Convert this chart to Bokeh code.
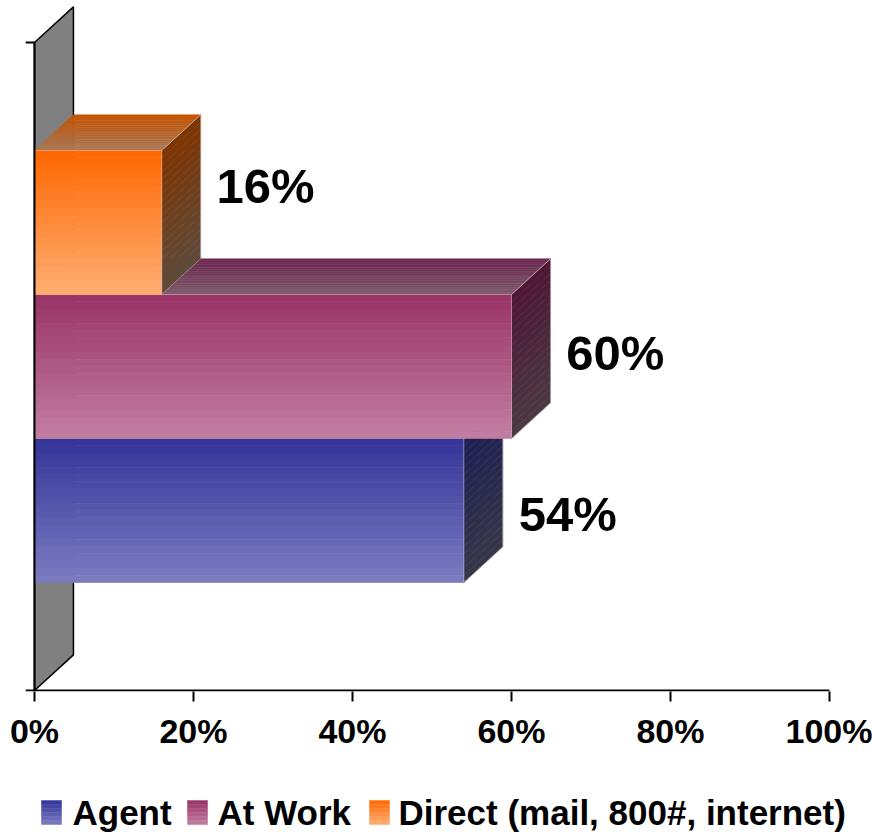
import numpy as np
from bokeh.plotting import figure
from bokeh.layouts import column
from bokeh.models import ColumnDataSource, FixedTicker, Range1d
from bokeh.core.properties import value
from bokeh.embed import file_html
from bokeh.resources import INLINE

# ---------------- data ----------------
series = ["Agent", "At Work", "Direct (mail, 800#, internet)"]
shares = [54, 60, 16]
value_labels = ["54%", "60%", "16%"]
tick_values = [0, 20, 40, 60, 80, 100]
tick_labels = ["0%", "20%", "40%", "60%", "80%", "100%"]

# ---------------- styles ----------------
front_top = ["#333399", "#993366", "#FF6600"]
front_bottom = ["#7C7CC2", "#C27EA2", "#FFAE74"]
side_top = ["#1E1E52", "#4E1634", "#7E3300"]
side_bottom = ["#373749", "#4A3942", "#5E4B3B"]
roof_back = ["#2A2A70", "#6C2850", "#C45200"]
roof_front = ["#55557A", "#7F5C6B", "#A97A5A"]
label_dy = [-0.006, 0.021, 0.056]   # vertical nudge of value labels
FONT = "Liberation Sans"

BAR_H = 2.0 / 9.0      # thickness of one bar (front plane spans 0..1)
GROUP0 = 1.0 / 6.0     # bottom of the bar group
DX = 4.9               # depth offset along x (percent units)
DY = 0.055             # depth offset along y
NB = 20                # gradient bands
PX_X = 7.95            # pixels per percent
PX_Y = 648.0           # pixels per unit of height
X0 = -1.13
X_END = X0 + 847 / PX_X
Y0 = -1.0 / PX_Y
Y1 = 690.0 / PX_Y

# legend layout (pixels in legend strip)
LEG_SQ_X = [41, 187, 369]
LEG_TXT_X = [72, 217, 398]
LEG_SQ_Y = (30, 54)
LEG_TXT_MID = 42


def hex2rgb(h):
    h = h.lstrip("#")
    return np.array([int(h[i:i + 2], 16) for i in (0, 2, 4)], dtype=float)


def lerp(c1, c2, t):
    a, b = hex2rgb(c1), hex2rgb(c2)
    c = a + (b - a) * t
    return "#%02x%02x%02x" % tuple(int(round(v)) for v in c)


p = figure(width=872, height=770, output_backend="svg", toolbar_location=None,
           x_range=Range1d(X0, X_END), y_range=Range1d(Y0, Y1),
           min_border_left=25, min_border_right=0, min_border_top=0,
           min_border_bottom=79)
p.outline_line_color = None
p.xgrid.visible = False
p.ygrid.visible = False
p.yaxis.visible = False

# back wall
p.patch([0, 0, DX, DX], [0, 1, 1 + DY, DY], fill_color="#808080",
        line_color="black", line_width=1.5)

# bars, drawn bottom to top so upper bars cover hidden faces
for i, v in enumerate(shares):
    y0 = GROUP0 + i * BAR_H
    y1 = y0 + BAR_H
    xs, ys, cols = [], [], []
    for k in range(NB):  # roof
        t0, t1 = k / NB, (k + 1) / NB
        xs.append([t0 * DX, v + t0 * DX, v + t1 * DX, t1 * DX])
        ys.append([y1 + t0 * DY, y1 + t0 * DY, y1 + t1 * DY, y1 + t1 * DY])
        cols.append(lerp(roof_front[i], roof_back[i], (k + 0.5) / NB))
    for k in range(NB):  # side
        a = y1 - k * BAR_H / NB
        b = y1 - (k + 1) * BAR_H / NB
        xs.append([v, v + DX, v + DX, v])
        ys.append([a, a + DY, b + DY, b])
        cols.append(lerp(side_top[i], side_bottom[i], (k + 0.5) / NB))
    for k in range(NB):  # front
        a = y1 - k * BAR_H / NB
        b = y1 - (k + 1) * BAR_H / NB
        xs.append([0, v, v, 0])
        ys.append([a, a, b, b])
        cols.append(lerp(front_top[i], front_bottom[i], (k + 0.5) / NB))
    src = ColumnDataSource(dict(xs=xs, ys=ys, c=cols))
    p.patches("xs", "ys", source=src, fill_color="c", line_color="c", line_width=0.6)
    p.multi_line([[0, v, v + DX, v + DX, v, v], [v, v + DX]],
                 [[y1, y1, y1 + DY, y0 + DY, y0, y1], [y1, y1 + DY]],
                 line_color="#d8c8c8", line_alpha=0.5, line_width=1)

# axis lines (vertical wall axis + horizontal base line) and top tick
p.segment(x0=[0, X0, X0], y0=[0, 1, 0], x1=[0, 0, 100], y1=[1, 1, 0],
          line_color="black", line_width=2)

# value labels
lx = [v + DX + 2.0 for v in shares]
ly = [GROUP0 + i * BAR_H + BAR_H / 2 + label_dy[i] for i in range(3)]
p.text(x=lx, y=ly, text=value_labels, text_font=value(FONT), text_font_style="bold",
       text_font_size="49px", text_baseline="middle", text_align="left", text_color="black")

# x axis (ticks + labels)
ax = p.xaxis[0]
ax.ticker = FixedTicker(ticks=tick_values)
ax.major_label_overrides = {t: l for t, l in zip(tick_values, tick_labels)}
ax.axis_line_color = None
ax.major_tick_line_width = 2
ax.major_tick_line_color = "black"
ax.major_tick_in = 0
ax.major_tick_out = 10
ax.minor_tick_line_color = None
ax.major_label_text_font = FONT
ax.major_label_text_font_style = "bold"
ax.major_label_text_font_size = "34px"
ax.major_label_text_color = "black"
ax.major_label_standoff = 10

# ---------------- legend strip ----------------
lg = figure(width=872, height=64, output_backend="svg", toolbar_location=None,
            x_range=Range1d(25, 872), y_range=Range1d(64, 0),
            x_axis_location=None, y_axis_location=None,
            min_border_left=25, min_border_right=0,
            min_border_top=0, min_border_bottom=0)
lg.grid.visible = False
lg.outline_line_color = None

NL = 6
qx0, qx1, qt, qb, qc = [], [], [], [], []
for i in range(3):
    for k in range(NL):
        a = LEG_SQ_Y[0] + (LEG_SQ_Y[1] - LEG_SQ_Y[0]) * k / NL
        b = LEG_SQ_Y[0] + (LEG_SQ_Y[1] - LEG_SQ_Y[0]) * (k + 1) / NL
        qx0.append(LEG_SQ_X[i]); qx1.append(LEG_SQ_X[i] + 20)
        qt.append(a); qb.append(b)
        qc.append(lerp(front_top[i], front_bottom[i], (k + 0.5) / NL))
lg.quad(left=qx0, right=qx1, top=qt, bottom=qb, fill_color=qc, line_color=qc, line_width=0.5)
lg.text(x=LEG_TXT_X, y=[LEG_TXT_MID] * 3, text=series, text_font=value(FONT),
        text_font_style="bold", text_font_size="35px", text_baseline="middle",
        text_align="left", text_color="black")

layout = column(p, lg, spacing=0)
open("out.html", "w").write(file_html(layout, INLINE))
